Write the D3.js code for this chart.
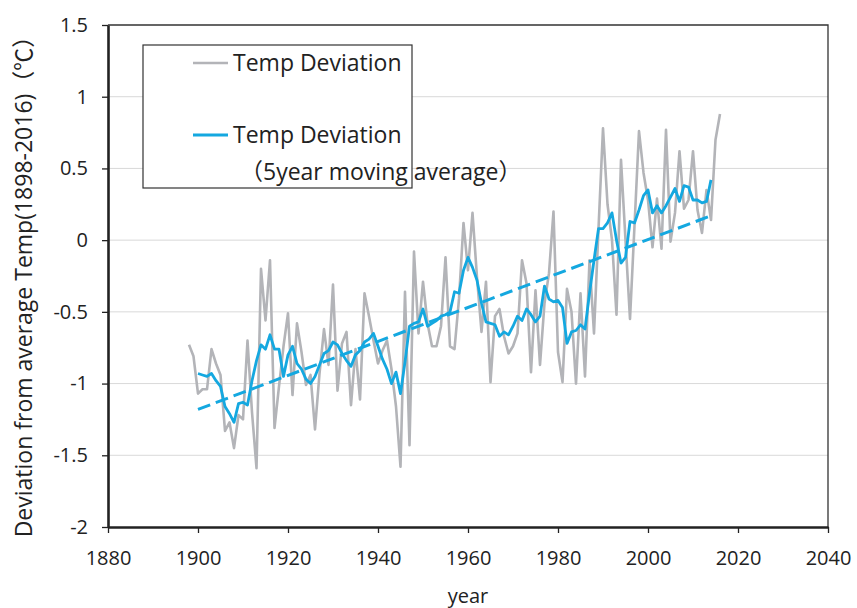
<!DOCTYPE html>
<html>
<head>
<meta charset="utf-8">
<script src="https://cdn.jsdelivr.net/npm/d3@7"></script>
<style>
  body { margin: 0; background: #fff; }
  text { font-family: "Open Sans", "Noto Sans", sans-serif; fill: #222; }
</style>
</head>
<body>
<svg id="chart"></svg>
<script>
// annual deviation, 1898-2016
const tempYears = d3.range(1898, 2017);
const tempDeviation = [
  -0.73, -0.81, -1.07, -1.04, -1.04, -0.76, -0.86, -0.94, -1.33, -1.27,
  -1.45, -1.22, -1.25, -0.70, -1.20, -1.59, -0.20, -0.56, -0.14, -1.31,
  -1.02, -0.74, -0.51, -1.08, -0.58, -0.78, -1.01, -0.94, -1.32, -0.93,
  -0.62, -0.87, -0.31, -1.05, -0.72, -0.64, -1.15, -0.76, -1.11, -0.37,
  -0.53, -0.70, -0.86, -0.77, -0.70, -0.90, -1.16, -1.58, -0.36, -1.43,
  -0.08, -0.65, -0.29, -0.58, -0.74, -0.74, -0.60, -0.12, -0.74, -0.76,
  -0.41, 0.12, -0.21, 0.19, -0.26, -0.64, -0.29, -0.99, -0.53, -0.48,
  -0.67, -0.79, -0.74, -0.65, -0.14, -0.30, -0.92, -0.35, -0.87, -0.44,
  -0.23, 0.20, -0.78, -0.99, -0.34, -0.50, -1.00, -0.37, -0.95, -0.14,
  -0.65, 0.08, 0.78, 0.25, 0.00, -0.52, 0.56, 0.00, -0.55, 0.10,
  0.76, 0.47, 0.28, -0.05, 0.29, -0.06, 0.77, -0.01, 0.19, 0.62,
  0.22, 0.28, 0.62, 0.21, 0.05, 0.35, 0.14, 0.70, 0.88
];

// 5 year moving average, 1900-2014
const avgYears = d3.range(1900, 2015);
const movingAverage = [
  -0.93, -0.94, -0.95, -0.93, -0.98, -1.02, -1.16, -1.21, -1.27, -1.14,
  -1.13, -1.15, -0.98, -0.84, -0.73, -0.76, -0.66, -0.76, -0.76, -0.95,
  -0.80, -0.74, -0.86, -0.90, -0.97, -1.00, -0.95, -0.87, -0.79, -0.77,
  -0.71, -0.73, -0.79, -0.84, -0.88, -0.80, -0.77, -0.71, -0.69, -0.65,
  -0.74, -0.83, -0.90, -1.00, -0.92, -1.07, -0.85, -0.60, -0.58, -0.57,
  -0.48, -0.60, -0.58, -0.56, -0.53, -0.52, -0.50, -0.36, -0.37, -0.21,
  -0.12, -0.19, -0.28, -0.44, -0.57, -0.58, -0.59, -0.67, -0.64, -0.66,
  -0.60, -0.53, -0.56, -0.48, -0.52, -0.57, -0.53, -0.32, -0.41, -0.43,
  -0.42, -0.47, -0.72, -0.64, -0.63, -0.59, -0.62, -0.37, -0.14, 0.08,
  0.08, 0.12, 0.19, 0.00, -0.16, -0.12, 0.13, 0.12, 0.21, 0.31,
  0.35, 0.19, 0.24, 0.19, 0.24, 0.30, 0.36, 0.27, 0.38, 0.37,
  0.28, 0.28, 0.26, 0.27, 0.42
];

// linear trend end points
const trendYears = [1900, 2014];
const trendValues = [-1.18, 0.17];

const xTicks = [1880, 1900, 1920, 1940, 1960, 1980, 2000, 2020, 2040];
const yTicks = [-2, -1.5, -1, -0.5, 0, 0.5, 1, 1.5];
const yTickLabels = ["-2", "-1.5", "-1", "-0.5", "0", "0.5", "1", "1.5"];
const legendLabels = ["Temp Deviation", "Temp Deviation", "（5year moving average）"];

const width = 857, height = 608;
const margin = { top: 25, right: 29, bottom: 81, left: 108 };
const grayColor = "#b3b4b8";
const blueColor = "#14a8e0";

const svg = d3.select("#chart")
  .attr("width", width)
  .attr("height", height);

const x = d3.scaleLinear().domain([1880, 2040]).range([margin.left, width - margin.right]);
const y = d3.scaleLinear().domain([-2, 1.5]).range([height - margin.bottom, margin.top]);

// grid lines
svg.append("g")
  .selectAll("line")
  .data(yTicks.slice(1, -1))
  .enter()
  .append("line")
  .attr("x1", x(1880))
  .attr("x2", x(2040))
  .attr("y1", d => y(d))
  .attr("y2", d => y(d))
  .attr("stroke", "#d9d9d9")
  .attr("stroke-width", 1);

// top and right border
svg.append("path")
  .attr("d", `M${x(1880)},${y(1.5)}H${x(2040)}V${y(-2)}`)
  .attr("fill", "none")
  .attr("stroke", "#333")
  .attr("stroke-width", 1.3);

// axes
const xAxis = svg.append("g")
  .attr("transform", `translate(0,${y(-2)})`)
  .call(d3.axisBottom(x).tickValues(xTicks).tickFormat(d3.format("d")).tickSize(6).tickSizeOuter(0).tickPadding(18));

const yAxis = svg.append("g")
  .attr("transform", `translate(${x(1880)},0)`)
  .call(d3.axisLeft(y).tickValues(yTicks).tickFormat((d, i) => yTickLabels[i]).tickSize(6).tickSizeOuter(0).tickPadding(14));

[xAxis, yAxis].forEach(g => {
  g.select(".domain").attr("stroke", "#222").attr("stroke-width", 2.6);
  g.selectAll(".tick line").attr("stroke", "#222").attr("stroke-width", 1.3);
  g.selectAll(".tick text").attr("font-size", 20).attr("fill", "#222")
    .style("font-family", '"Open Sans", "Noto Sans", sans-serif');
});

// series
const line = d3.line()
  .x(d => x(d[0]))
  .y(d => y(d[1]));

svg.append("path")
  .datum(d3.zip(tempYears, tempDeviation))
  .attr("d", line)
  .attr("fill", "none")
  .attr("stroke", grayColor)
  .attr("stroke-width", 2.6)
  .attr("stroke-linejoin", "round");

svg.append("path")
  .datum(d3.zip(trendYears, trendValues))
  .attr("d", line)
  .attr("fill", "none")
  .attr("stroke", blueColor)
  .attr("stroke-width", 3)
  .attr("stroke-dasharray", "13,6");

svg.append("path")
  .datum(d3.zip(avgYears, movingAverage))
  .attr("d", line)
  .attr("fill", "none")
  .attr("stroke", blueColor)
  .attr("stroke-width", 2.8)
  .attr("stroke-linejoin", "round");

// legend
const legend = svg.append("g");
legend.append("rect")
  .attr("x", 143).attr("y", 45)
  .attr("width", 269).attr("height", 143)
  .attr("fill", "#fff")
  .attr("stroke", "#333")
  .attr("stroke-width", 1.2);

legend.append("line")
  .attr("x1", 193).attr("x2", 228).attr("y1", 63).attr("y2", 63)
  .attr("stroke", grayColor).attr("stroke-width", 2.6);
legend.append("line")
  .attr("x1", 193).attr("x2", 228).attr("y1", 135).attr("y2", 135)
  .attr("stroke", blueColor).attr("stroke-width", 2.8);

legend.append("text").attr("x", 233).attr("y", 71).attr("font-size", 23).text(legendLabels[0]);
legend.append("text").attr("x", 233).attr("y", 143).attr("font-size", 23).text(legendLabels[1]);
legend.append("text").attr("x", 240).attr("y", 180).attr("font-size", 23)
  .style("font-family", '"Open Sans", "Noto Sans CJK JP", sans-serif')
  .text(legendLabels[2]);

// axis titles
svg.append("text")
  .attr("x", x(1960))
  .attr("y", 603)
  .attr("text-anchor", "middle")
  .attr("font-size", 20)
  .text("year");

svg.append("text")
  .attr("transform", "translate(32,281) rotate(-90)")
  .attr("text-anchor", "middle")
  .attr("font-size", 23)
  .style("font-family", '"Open Sans", "Noto Sans CJK JP", sans-serif')
  .text("Deviation from average Temp(1898-2016)（℃）");
</script>
</body>
</html>
